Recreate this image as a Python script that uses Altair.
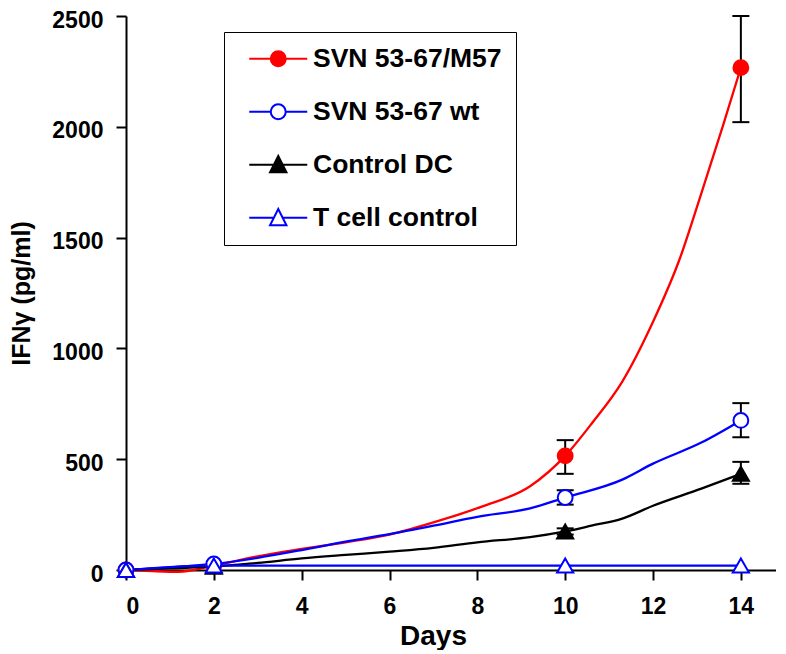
import altair as alt
import pandas as pd

# ---------------- data ----------------
series_names = ["SVN 53-67/M57", "SVN 53-67 wt", "Control DC", "T cell control"]
series_colors = ["#ff0000", "#0000ff", "#000000", "#0000ff"]
series_fills = ["#ff0000", "#ffffff", "#000000", "#ffffff"]

# measured time points (markers)
meas_days = [0, 2, 10, 14]
m57_vals = [0, 20, 515, 2267]
wt_vals = [0, 27, 327, 675]
dc_vals = [0, 15, 174, 434]
tcell_vals = [0, 20, 20, 20]

# error bars
err_series = ["SVN 53-67/M57", "SVN 53-67/M57", "SVN 53-67 wt", "SVN 53-67 wt", "Control DC", "Control DC"]
err_days = [10, 14, 10, 14, 10, 14]
err_low = [434, 2021, 295, 599, 160, 389]
err_high = [586, 2500, 360, 753, 188, 488]

# curves as drawn in the figure (traced)
m57_curve_days = [0, 0.6, 1.2, 2, 3, 4, 5, 6, 7, 8.1, 9.2, 10, 10.6, 11.3, 12, 12.6, 13.1, 13.6, 14]
m57_curve_vals = [0, -5, -8, 20, 62, 95, 125, 160, 215, 286, 378, 515, 660, 850, 1120, 1400, 1700, 2010, 2267]
wt_curve_days = [0, 1, 2, 3, 4, 5, 6, 7, 8, 9.2, 10, 11.3, 12, 13.1, 14]
wt_curve_vals = [0, 12, 27, 55, 90, 128, 162, 200, 240, 278, 327, 408, 480, 575, 675]
dc_curve_days = [0, 1, 2, 3, 4, 5, 6, 7, 8, 9.2, 10, 10.6, 11.3, 12, 13.1, 14]
dc_curve_vals = [0, 8, 15, 32, 52, 68, 83, 100, 125, 148, 174, 200, 232, 290, 367, 434]
tcell_curve_days = [0, 2, 10, 14]
tcell_curve_vals = [0, 20, 20, 20]

# legend glyphs: line + marker (path units scaled by sqrt(symbolSize)/2)
legend_shapes = [
    "M-2.9,0L-0.75,0M0.75,0L2.9,0M-0.75,0A0.75,0.75,0,1,0,0.75,0A0.75,0.75,0,1,0,-0.75,0Z",
    "M-2.9,0L-0.75,0M0.75,0L2.9,0M-0.75,0A0.75,0.75,0,1,0,0.75,0A0.75,0.75,0,1,0,-0.75,0Z",
    "M-2.9,0L-0.44,0M0.44,0L2.9,0M0,-0.88L0.82,0.75L-0.82,0.75Z",
    "M-2.9,0L-0.44,0M0.44,0L2.9,0M0,-0.88L0.82,0.75L-0.82,0.75Z",
]

# ---------------- tables ----------------
curve_rows = []
for name, ds, vs in zip(series_names,
                        [m57_curve_days, wt_curve_days, dc_curve_days, tcell_curve_days],
                        [m57_curve_vals, wt_curve_vals, dc_curve_vals, tcell_curve_vals]):
    for d, v in zip(ds, vs):
        curve_rows.append({"series": name, "day": d, "value": v})
curves = pd.DataFrame(curve_rows)

meas_rows = []
for name, vs in zip(series_names, [m57_vals, wt_vals, dc_vals, tcell_vals]):
    for d, v in zip(meas_days, vs):
        meas_rows.append({"series": name, "day": d, "value": v})
meas = pd.DataFrame(meas_rows)

errs = pd.DataFrame({"series": err_series, "day": err_days, "low": err_low, "high": err_high})
legend_df = pd.DataFrame({"series": series_names, "day": [None] * 4, "value": [None] * 4})

FONT = "Liberation Sans"

x_enc = alt.X("day:Q",
              scale=alt.Scale(domain=[0, 14.8], nice=False),
              axis=alt.Axis(values=[0, 2, 4, 6, 8, 10, 12, 14], title="Days", grid=False,
                            tickSize=10, tickWidth=2, domainWidth=2, domainColor="black",
                            tickColor="black", labelFont=FONT, labelFontSize=23,
                            labelFontWeight="bold", labelColor="black", labelPadding=15,
                            titleFont=FONT, titleFontSize=28, titleFontWeight="bold",
                            titleColor="black", titleX=307, titleY=74,
                            titleBaseline="alphabetic"))
y_enc = alt.Y("value:Q",
              scale=alt.Scale(domain=[0, 2500], nice=False),
              axis=alt.Axis(values=[0, 500, 1000, 1500, 2000, 2500], format="d",
                            title="IFNγ (pg/ml)",
                            grid=False, tickSize=10, tickWidth=2, domainWidth=2,
                            domainColor="black", tickColor="black", labelFont=FONT,
                            labelFontSize=23, labelFontWeight="bold", labelColor="black",
                            labelPadding=13, labelOffset=4, titleFont=FONT, titleFontSize=25,
                            titleFontWeight="bold", titleColor="black", titleX=-97,
                            titleBaseline="alphabetic"))

leg = alt.Legend(title=None, orient="none", legendX=98, legendY=16, strokeColor="black",
                 padding=13.5, labelFont=FONT, labelFontSize=26.5, labelFontWeight="bold",
                 labelColor="black", symbolSize=400, symbolStrokeWidth=2, rowPadding=26,
                 symbolOffset=27.5, labelOffset=21.5, labelLimit=400)

color_enc = alt.Color("series:N", scale=alt.Scale(domain=series_names, range=series_colors), legend=leg)
fill_enc = alt.Fill("series:N", scale=alt.Scale(domain=series_names, range=series_fills), legend=leg)
shape_enc = alt.Shape("series:N", scale=alt.Scale(domain=series_names, range=legend_shapes), legend=leg)

lines = alt.Chart(curves).mark_line(strokeWidth=2.3, interpolate="monotone").encode(
    x=x_enc, y=y_enc, color=color_enc, detail="series:N")

err_rule = alt.Chart(errs).mark_rule(color="black", strokeWidth=2).encode(
    x="day:Q", y="low:Q", y2="high:Q")
cap_lo = alt.Chart(errs).mark_tick(color="black", thickness=2, size=17, orient="horizontal", opacity=1).encode(
    x="day:Q", y="low:Q")
cap_hi = alt.Chart(errs).mark_tick(color="black", thickness=2, size=17, orient="horizontal", opacity=1).encode(
    x="day:Q", y="high:Q")

circ = alt.Chart(meas).transform_filter(
    alt.FieldOneOfPredicate(field="series", oneOf=series_names[:2])
).mark_point(shape="circle", size=220, strokeWidth=2, opacity=1, fillOpacity=1).encode(
    x="day:Q", y="value:Q", color=color_enc, fill=fill_enc)
tri = alt.Chart(meas).transform_filter(
    alt.FieldOneOfPredicate(field="series", oneOf=series_names[2:])
).mark_point(shape="triangle-up", size=260, strokeWidth=2, opacity=1, fillOpacity=1).encode(
    x="day:Q", y="value:Q", color=color_enc, fill=fill_enc)

legend_layer = alt.Chart(legend_df).mark_point(opacity=1, fillOpacity=1, strokeWidth=2).encode(
    x="day:Q", y="value:Q", color=color_enc, fill=fill_enc, shape=shape_enc)

chart = alt.layer(lines, err_rule, cap_lo, cap_hi, circ, tri, legend_layer).properties(
    width=650, height=554,
    autosize=alt.AutoSizeParams(type="none"),
    padding={"left": 118, "top": 8, "right": 0, "bottom": 80},
).configure_view(stroke=None)

chart.save("out.html", embed_options={"renderer": "svg", "actions": False})
